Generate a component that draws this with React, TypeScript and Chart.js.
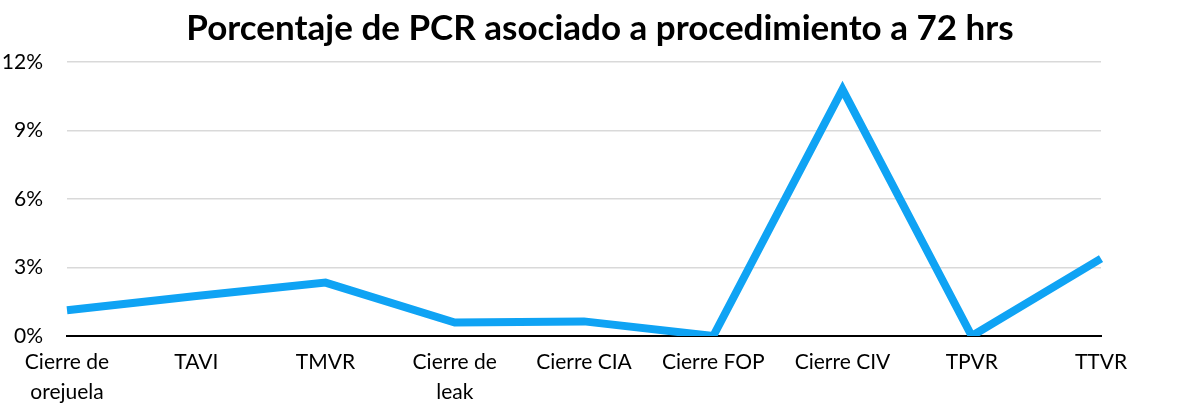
import { useEffect, useRef } from "react";
import { Chart, registerables } from "chart.js";

Chart.register(...registerables);

const categories: (string | string[])[] = [
  ["Cierre de", "orejuela"],
  "TAVI",
  "TMVR",
  ["Cierre de", "leak"],
  "Cierre CIA",
  "Cierre FOP",
  "Cierre CIV",
  "TPVR",
  "TTVR",
];

// porcentaje de PCR a 72 hrs
const pcrValues = [1.13, 1.75, 2.34, 0.59, 0.64, 0, 10.8, 0, 3.39];

const yTicks = [0, 3, 6, 9, 12];

const FONT = "Lato, 'Open Sans', sans-serif";

export default function App() {
  const canvasRef = useRef<HTMLCanvasElement | null>(null);
  const chartRef = useRef<Chart | null>(null);

  useEffect(() => {
    document.body.style.margin = "0";
    const canvas = canvasRef.current;
    if (!canvas) return;
    chartRef.current?.destroy();

    chartRef.current = new Chart(canvas, {
      type: "line",
      data: {
        labels: categories,
        datasets: [
          {
            label: "PCR",
            data: pcrValues,
            borderColor: "#0FA3F4",
            borderWidth: 8,
            pointRadius: 0,
            tension: 0,
            borderJoinStyle: "miter",
            fill: false,
          },
        ],
      },
      options: {
        responsive: true,
        maintainAspectRatio: false,
        animation: false,
        layout: { padding: 0 },
        plugins: {
          legend: { display: false },
          tooltip: { enabled: false },
          title: {
            display: true,
            text: "Porcentaje de PCR asociado a procedimiento a 72 hrs",
            color: "#000",
            font: { family: FONT, size: 35, weight: "bold" },
            padding: { top: 8, bottom: 12 },
          },
        },
        scales: {
          x: {
            offset: false,
            grid: { display: false, drawTicks: false },
            border: { display: true, color: "#000", width: 2 },
            afterFit: (scale) => {
              scale.height = 75;
            },
            ticks: {
              color: "#000",
              padding: 12,
              maxRotation: 0,
              autoSkip: false,
              font: { family: FONT, size: 21, lineHeight: 1.4 },
            },
          },
          y: {
            min: 0,
            max: 12,
            afterBuildTicks: (scale) => {
              scale.ticks = yTicks.map((v) => ({ value: v }));
            },
            afterFit: (scale) => {
              scale.width = 67;
            },
            grid: { color: "#d9d9d9", lineWidth: 1.5, drawTicks: false },
            border: { display: false },
            ticks: {
              color: "#000",
              padding: 24,
              font: { family: FONT, size: 21 },
              callback: (v) => `${v}%`,
            },
          },
          // empty right axis, only keeps the right margin
          yRight: {
            position: "right",
            grid: { display: false, drawTicks: false },
            border: { display: false },
            ticks: { display: false },
            afterFit: (scale) => {
              scale.width = 99;
            },
          },
        },
      },
    });

    return () => {
      chartRef.current?.destroy();
      chartRef.current = null;
    };
  }, []);

  return (
    <div style={{ width: 1200, height: 411, position: "relative" }}>
      <canvas ref={canvasRef} />
    </div>
  );
}
